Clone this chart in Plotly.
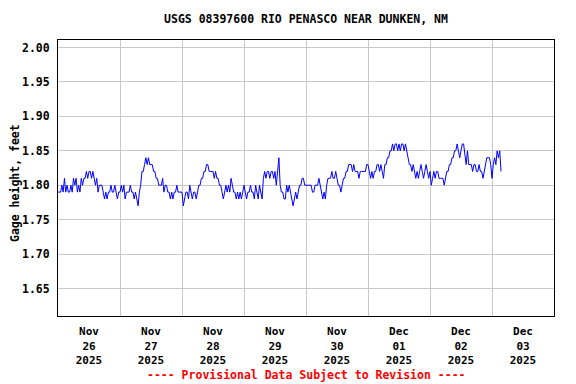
import pandas as pd
import plotly.graph_objects as go

# Gage height readings (hundredths of a foot), every 30 minutes from 2025-11-26 00:00
nov26 = [179,179, 179,180, 179,181, 179,180, 179,179, 180,179, 181,180, 181,179, 180,179, 181,180, 181,181, 182,181,
         182,182, 181,182, 181,180, 181,179, 180,180, 180,179, 178,179, 178,179, 179,180, 179,179, 180,179, 178,179]
nov27 = [179,180, 179,180, 178,179, 179,179, 180,179, 179,178, 179,178, 177,179, 180,182, 182,183, 184,183, 184,183,
         183,183, 182,182, 181,181, 180,180, 180,181, 179,180, 180,179, 179,178, 179,178, 179,179, 180,179, 179,179]
nov28 = [179,177, 178,179, 179,178, 180,179, 178,179, 179,178, 179,180, 180,181, 181,182, 182,183, 183,182, 182,182,
         182,181, 182,181, 181,180, 180,179, 178,179, 180,179, 180,179, 181,180, 179,179, 178,179, 178,179, 178,179]
nov29 = [180,179, 178,179, 179,180, 179,179, 178,180, 179,178, 180,179, 178,181, 182,181, 182,182, 181,182, 182,181,
         182,180, 182,184, 180,179, 179,178, 178,180, 179,180, 179,178, 177,178, 179,178, 179,180, 180,181, 181,180]
nov30 = [180,180, 180,180, 180,179, 179,180, 180,180, 181,180, 179,178, 179,178, 180,181, 181,181, 182,181, 181,182,
         181,180, 180,179, 180,181, 181,182, 182,183, 183,183, 182,183, 182,182, 182,181, 182,182, 182,182, 182,183]
dec01 = [183,182, 181,182, 181,182, 182,183, 183,182, 183,182, 181,183, 183,184, 184,185, 185,186, 185,186, 186,185,
         186,185, 186,186, 185,186, 185,184, 183,183, 182,183, 182,181, 182,181, 182,183, 182,181, 182,183, 182,181]
dec02 = [182,180, 181,182, 181,182, 182,181, 181,181, 181,180, 181,182, 182,183, 183,184, 184,185, 185,186, 185,184,
         185,186, 186,184, 183,185, 183,183, 183,182, 183,183, 182,182, 183,182, 182,181, 182,183, 184,184, 184,183]
dec03 = [181,183, 184,183, 185,184, 185,182]

readings = nov26 + nov27 + nov28 + nov29 + nov30 + dec01 + dec02 + dec03
gage_ft = [v / 100 for v in readings]
times = pd.date_range("2025-11-26 00:00", periods=len(gage_ft), freq="30min")

tick_days = ["2025-11-26", "2025-11-27", "2025-11-28", "2025-11-29",
             "2025-11-30", "2025-12-01", "2025-12-02", "2025-12-03"]
tick_labels = ["Nov<br>26<br>2025", "Nov<br>27<br>2025", "Nov<br>28<br>2025", "Nov<br>29<br>2025",
               "Nov<br>30<br>2025", "Dec<br>01<br>2025", "Dec<br>02<br>2025", "Dec<br>03<br>2025"]
tick_noon = [pd.Timestamp(d) + pd.Timedelta(hours=12) for d in tick_days]

y_ticks = [1.65, 1.70, 1.75, 1.80, 1.85, 1.90, 1.95, 2.00]

FONT = "DejaVu Sans Mono"
GRID = "#c8c8c8"

# the page body adds an 8px offset, so the figure is sized/margined to compensate
W, H = 568, 376
ML, MR, MT, MB = 50, 22, 32, 68
PH = H - MT - MB

fig = go.Figure()
fig.add_trace(go.Scatter(x=times, y=gage_ft, mode="lines",
                         line=dict(color="#0000ff", width=1), hoverinfo="skip"))

fig.update_layout(
    width=W, height=H,
    margin=dict(l=ML, r=MR, t=MT, b=MB, autoexpand=False),
    paper_bgcolor="white", plot_bgcolor="white",
    showlegend=False,
    font=dict(family=FONT, size=11, color="black", weight="bold"),
    title=dict(text="<b>USGS 08397600 RIO PENASCO NEAR DUNKEN, NM</b>",
               x=(ML + (W - ML - MR) / 2) / W, xanchor="center", y=1 - 11 / H, yanchor="middle",
               yref="container", font=dict(family=FONT, size=11.5, color="black")),
    xaxis=dict(
        range=["2025-11-26 00:00", "2025-12-04 00:00"],
        tickmode="array", tickvals=tick_noon, ticktext=tick_labels,
        showgrid=False, ticks="", tickfont=dict(family=FONT, size=11, weight="bold"),
        ticklabelstandoff=5, automargin=False,
        showline=True, linecolor="black", linewidth=1, mirror=True,
        minor=dict(dtick=86400000, tick0="2025-11-26", showgrid=True, gridcolor=GRID, gridwidth=1, ticks=""),
        zeroline=False,
    ),
    yaxis=dict(
        range=[1.61, 2.011],
        tickmode="array", tickvals=y_ticks, ticktext=[f"{v:.2f}" for v in y_ticks],
        showgrid=True, gridcolor=GRID, gridwidth=1, ticks="",
        tickfont=dict(family=FONT, size=11.5, weight="bold"),
        ticklabelstandoff=5, automargin=False,
        showline=True, linecolor="black", linewidth=1, mirror=True,
        zeroline=False,
    ),
    annotations=[
        dict(text="<b>Gage height, feet</b>", textangle=-90,
             xref="paper", yref="paper", x=0, y=0.5, xshift=-43, yshift=-5,
             xanchor="center", yanchor="middle", showarrow=False, borderpad=0,
             font=dict(family=FONT, size=11.5, color="black")),
        dict(text="<b>---- Provisional Data Subject to Revision ----</b>",
             xref="paper", yref="paper", x=0.5, y=-(59 / PH),
             xanchor="center", yanchor="middle", showarrow=False,
             font=dict(family=FONT, size=11.5, color="red")),
    ],
)

fig.write_html("out.html")
